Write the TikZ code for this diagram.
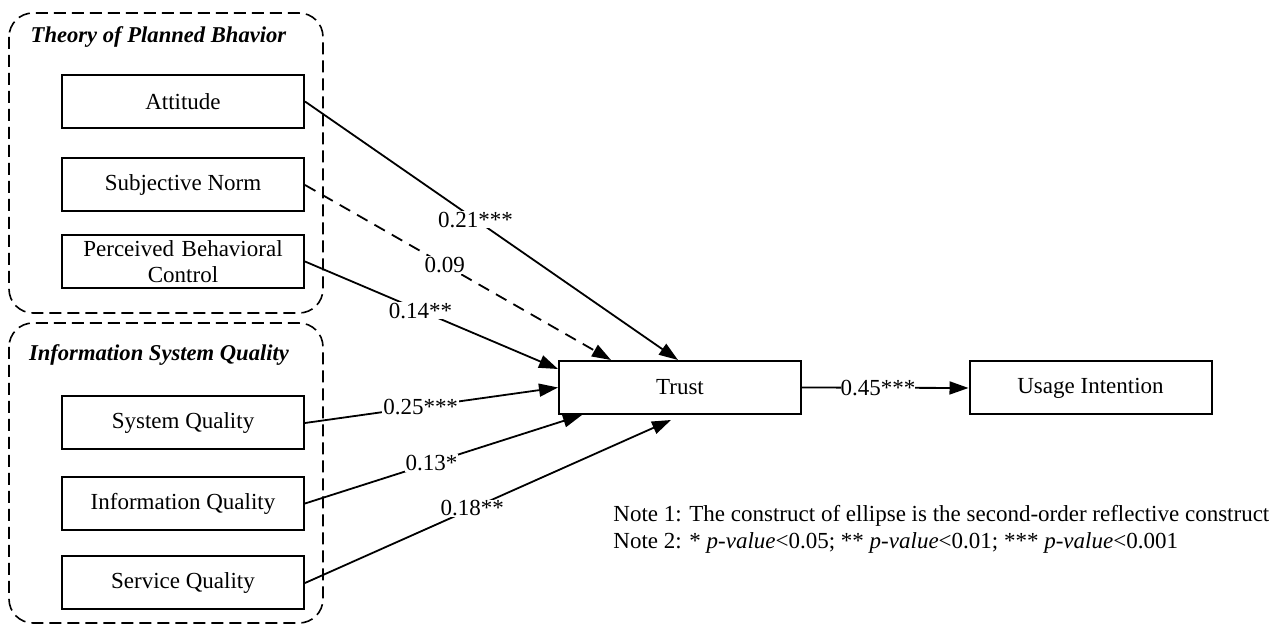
\documentclass[tikz,border=0pt]{standalone}
\usepackage{fontspec}
\setmainfont{Liberation Serif}
\usetikzlibrary{arrows.meta,calc}
\begin{document}
\begin{tikzpicture}[x=0.5pt,y=-0.5pt,
  every node/.style={font=\fontsize{11.5}{13}\selectfont},
  box/.style={draw,line width=1pt,minimum width=121pt,minimum height=26.5pt,inner sep=0pt,align=center},
  group/.style={draw,line width=0.8pt,dash pattern=on 6pt off 3pt,rounded corners=12pt},
  gtitle/.style={font=\fontsize{11.3}{13}\selectfont\bfseries\itshape},
  link/.style={line width=0.9pt,-{Triangle[length=9.5pt,width=6.5pt]}},
  lab/.style={fill=white,inner sep=0.5pt,pos=0.457},
  note/.style={anchor=west,inner sep=0pt}]
\useasboundingbox (0,0) rectangle (1270,625);
% groups
\draw[group] (9,13) rectangle (323,313);
\draw[group] (9,323) rectangle (323,623);
\node[gtitle] (tpbt) at (158.5,37) {Theory of Planned Bhavior};
\node[gtitle] (isqt) at (159,355) {Information System Quality};
% construct boxes
\node[box] (att) at (183,101.5) {Attitude};
\node[box] (sn) at (183,185) {Subjective Norm};
\node[box,text width=119pt] (pbc) at (183,261.5) {Perceived Behavioral\\Control};
\node[box] (sq) at (183,423) {System Quality};
\node[box] (iq) at (183,503.5) {Information Quality};
\node[box] (svq) at (183,583) {Service Quality};
\node[box] (trust) at (680,387.5) {Trust};
\node[box] (ui) at (1090.5,388) {Usage Intention};
% arrow end points on Trust
\coordinate (tsn) at ($(trust.north west)+(53,0)$);
\coordinate (tpbc) at ($(trust.north west)+(0,9)$);
\coordinate (tiq) at ($(trust.south west)+(24,0)$);
\coordinate (tsvq) at ($(trust.south west)+(113,5)$);
% connectors
\draw[link] (att.east) -- node[lab] {0.21***} ($(trust.north)+(-2,0)$);
\draw[link,dash pattern=on 6pt off 4pt] (sn.east) -- node[lab] {0.09} (tsn);
\draw[link] (pbc.east) -- node[lab] {0.14**} (tpbc);
\draw[link] (sq.east) -- node[lab] {0.25***} (trust.west);
\draw[link] (iq.east) -- node[lab] {0.13*} (tiq);
\draw[link] (svq.east) -- node[lab] {0.18**} (tsvq);
\draw[link] (trust.east) -- node[lab,inner sep=0pt] {0.45***} (ui.west);
% notes
\node[note] (n1) at (613,516) {Note 1: The construct of ellipse is the second-order reflective construct};
\node[note] (n2) at (613,543) {Note 2: * \textit{p-value}<0.05; ** \textit{p-value}<0.01; *** \textit{p-value}<0.001};
\end{tikzpicture}
\end{document}
